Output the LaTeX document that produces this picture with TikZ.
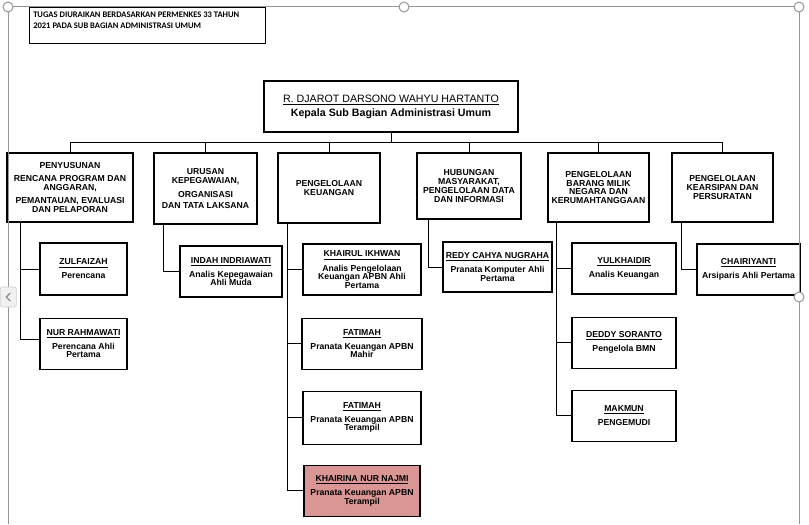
\documentclass[tikz,border=0pt]{standalone}
\usepackage{fontspec}
\setmainfont{Liberation Sans}
\newfontfamily\notefont{Carlito}
\usepackage{xcolor}
\usetikzlibrary{positioning, calc}

\definecolor{pinkfill}{RGB}{217,150,148}
\definecolor{framegray}{RGB}{150,150,150}

\begin{document}
\begin{tikzpicture}[
x=0.75pt, y=-0.75pt,
unit_box/.style={rectangle, draw, line width=0.8pt, align=center, inner sep=1pt, font=\fontsize{6.5}{6.6}\selectfont\bfseries},
staff_box/.style={rectangle, draw, line width=0.8pt, align=center, inner sep=1pt, minimum height=38.25pt, font=\fontsize{6.5}{6.3}\selectfont\bfseries},
link/.style={line width=0.75pt},
frame_line/.style={draw=framegray, line width=0.75pt},
handle/.style={circle, draw=framegray, fill=white, line width=0.75pt, minimum size=7.5pt, inner sep=0pt}
]
\useasboundingbox (0,0) rectangle (809,524);

% Note
\node[rectangle, draw, line width=0.8pt, anchor=north west, minimum width=177pt, minimum height=27pt] (note) at (29,7) {};
\node[anchor=north west, align=left, inner sep=0pt, font=\notefont\fontsize{6.4}{8.25}\selectfont\bfseries] (note_text) at (33,11.5) {TUGAS DIURAIKAN BERDASARKAN PERMENKES 33 TAHUN\\2021 PADA SUB BAGIAN ADMINISTRASI UMUM};

% Head
\node[rectangle, draw, line width=0.8pt, align=center, minimum width=190.5pt, minimum height=38.25pt, font=\fontsize{8}{10.5}\selectfont] (main) at (391,106.5) {\underline{R. DJAROT DARSONO WAHYU HARTANTO}\\\textbf{Kepala Sub Bagian Administrasi Umum}};

% Units
\node[unit_box, minimum width=94.5pt, minimum height=51.75pt] (pen) at (70,187.5) {PENYUSUNAN\\[3pt]RENCANA PROGRAM DAN\\ANGGARAN,\\[3pt]PEMANTAUAN, EVALUASI\\DAN PELAPORAN};
\node[unit_box, minimum width=77.25pt, minimum height=53.25pt] (uru) at (205.5,188.5) {URUSAN\\KEPEGAWAIAN,\\[4pt]ORGANISASI\\[2pt]DAN TATA LAKSANA};
\node[unit_box, minimum width=76.5pt, minimum height=52.5pt] (keu) at (329,188) {PENGELOLAAN\\KEUANGAN};
\node[unit_box, minimum width=78pt, minimum height=49.5pt] (hub) at (469,186) {HUBUNGAN\\MASYARAKAT,\\PENGELOLAAN DATA\\DAN INFORMASI};
\node[unit_box, minimum width=75.75pt, minimum height=51.75pt] (bmn) at (598.5,187.5) {PENGELOLAAN\\BARANG MILIK\\NEGARA DAN\\KERUMAHTANGGAAN};
\node[unit_box, minimum width=75.75pt, minimum height=51.75pt] (ars) at (722.5,187.5) {PENGELOLAAN\\KEARSIPAN DAN\\PERSURATAN};

% Staff
\node[staff_box, minimum width=65.25pt, minimum height=39pt] (zul) at (83.5,269) {\underline{ZULFAIZAH}\\[3pt]Perencana};
\node[staff_box, minimum width=65.25pt] (nur) [below=16.5pt of zul] {\underline{NUR RAHMAWATI}\\[3pt]Perencana Ahli\\Pertama};
\node[staff_box, minimum width=76.5pt] (ind) at (231,271.5) {\underline{INDAH INDRIAWATI}\\[3pt]Analis Kepegawaian\\Ahli Muda};
\node[staff_box, minimum width=88.5pt] (khr) at (362,269.5) {\underline{KHAIRUL IKHWAN}\\[3pt]Analis Pengelolaan\\Keuangan APBN Ahli\\Pertama};
\node[staff_box, minimum width=90pt] (fat1) [below=16.5pt of khr] {\underline{FATIMAH}\\[3pt]Pranata Keuangan APBN\\Mahir};
\node[staff_box, minimum width=88.5pt, minimum height=39.75pt] (fat2) [below=15.75pt of fat1] {\underline{FATIMAH}\\[3pt]Pranata Keuangan APBN\\Terampil};
\node[staff_box, minimum width=87pt, fill=pinkfill] (kna) [below=15pt of fat2] {\underline{KHAIRINA NUR NAJMI}\\[3pt]Pranata Keuangan APBN\\Terampil};
\node[staff_box, minimum width=81.75pt, minimum height=37.5pt] (redy) at (497.5,267) {\underline{REDY CAHYA NUGRAHA}\\[3pt]Pranata Komputer Ahli\\Pertama};
\node[staff_box, minimum width=78pt] (yul) at (624,268.5) {\underline{YULKHAIDIR}\\[3pt]Analis Keuangan};
\node[staff_box, minimum width=78pt] (ded) [below=16.5pt of yul] {\underline{DEDDY SORANTO}\\[3pt]Pengelola BMN};
\node[staff_box, minimum width=78pt] (mak) [below=15.75pt of ded] {\underline{MAKMUN}\\[3pt]PENGEMUDI};
\node[staff_box, minimum width=77.25pt] (cha) at (748.5,269.5) {\underline{CHAIRIYANTI}\\[3pt]Arsiparis Ahli Pertama};

% Head to units
\coordinate (bar) at (391,143);
\draw[link] (main) -- (bar);
\foreach \u in {pen,uru,keu,hub,bmn,ars}
  \draw[link] (bar) -| (\u.north);

% Units to staff
\draw[link] (pen.south west) ++(14,0) |- (zul.west);
\draw[link] (pen.south west) ++(14,0) |- ([yshift=3.4pt]nur.west);
\draw[link] (uru.south west) ++(10,0) |- (ind.west);
\foreach \s in {khr,fat1,fat2,kna}
  \draw[link] (keu.south west) ++(10,0) |- (\s.west);
\draw[link] (hub.south west) ++(12,0) |- (redy.west);
\foreach \s in {yul,ded,mak}
  \draw[link] (bmn.south west) ++(9,0) |- (\s.west);
\draw[link] (ars.south west) ++(10,0) |- (cha.west);

% Frame
\draw[frame_line] (8,524) -- (8,7) -- (799,7) -- (799,524);
\node[handle] (h_tl) at (8,7) {};
\node[handle] (h_tm) at (404,7) {};
\node[handle] (h_tr) at (799,7) {};
\node[handle] (h_rm) at (799,297) {};
\node[rectangle, rounded corners=1.5pt, draw=black!20, fill=black!6, minimum width=12pt, minimum height=15pt, anchor=west] (nav) at (0,297) {};
\draw[black!45, line width=0.9pt] ($(nav.center)+(1.5pt,3pt)$) -- ($(nav.center)+(-1.5pt,0)$) -- ($(nav.center)+(1.5pt,-3pt)$);
\end{tikzpicture}
\end{document}
